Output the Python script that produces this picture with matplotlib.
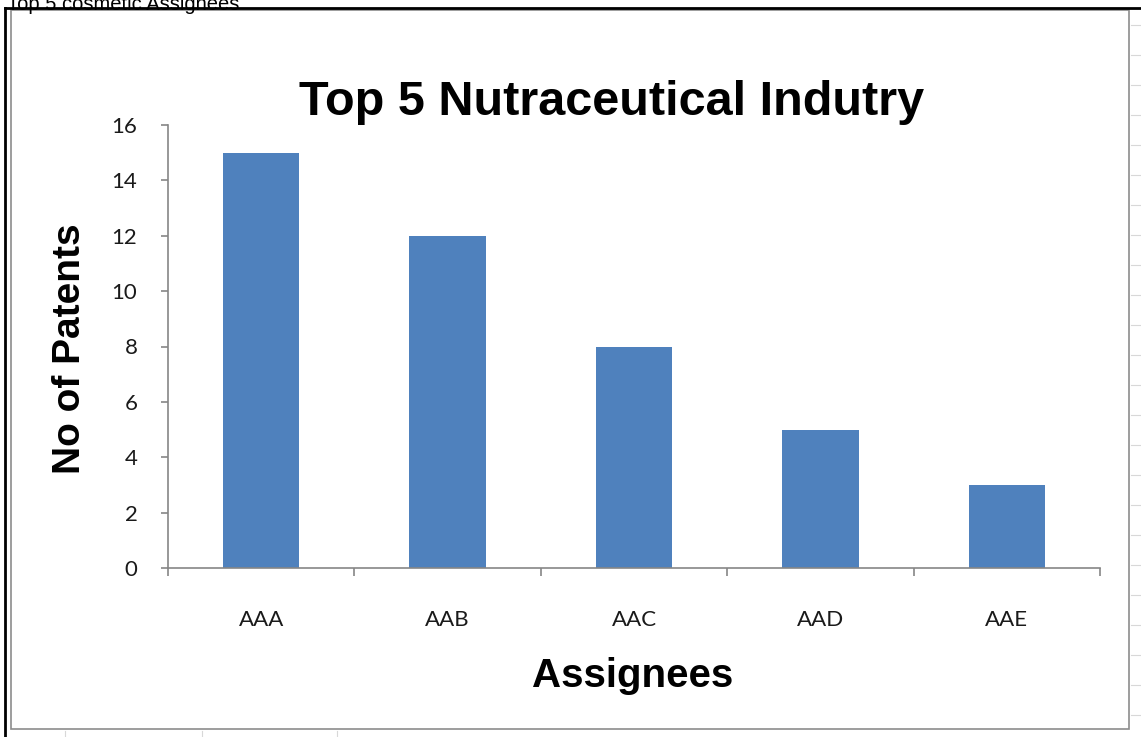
import matplotlib.pyplot as plt
import numpy as np
from matplotlib.patches import Rectangle
from matplotlib.lines import Line2D

# data
assignees = ["AAA", "AAB", "AAC", "AAD", "AAE"]
patents = [15, 12, 8, 5, 3]
yticks = [0, 2, 4, 6, 8, 10, 12, 14, 16]

W, H = 1141, 737
fig = plt.figure(figsize=(W / 100, H / 100), dpi=100)

def px(x, y):
    # pixel coords (top-left origin) -> figure fraction
    return x / W, 1 - y / H

# sheet gridlines peeking out around the chart
for yy in range(25, 737, 30):
    fig.add_artist(Line2D([1131 / W, 1], [1 - yy / H] * 2, color="#d8d8d8", lw=0.8))
for xx in [65, 202, 337]:
    fig.add_artist(Line2D([xx / W] * 2, [0, 6 / H], color="#d8d8d8", lw=0.8))

# chart area
x0, y0 = px(11, 729)
x1, y1 = px(1129, 10)
fig.add_artist(Rectangle((x0, y0), x1 - x0, y1 - y0, transform=fig.transFigure,
                         facecolor="white", edgecolor="#8c8c8c", lw=1.2, zorder=0))

# black frame lines of the screenshot
fig.add_artist(Line2D([5 / W, 1], [1 - 8 / H] * 2, color="black", lw=2))
fig.add_artist(Line2D([5 / W] * 2, [0, 1 - 8 / H], color="black", lw=2))

fig.text(7 / W, 1 - 10 / H, "Top 5 cosmetic Assignees", family="Liberation Sans",
         fontsize=14.5, va="baseline", ha="left", color="black")

# plot area
left, bottom = 168 / W, 1 - 568 / H
ax = fig.add_axes([left, bottom, (1100 - 168) / W, (568 - 125) / H])
ax.set_facecolor("none")
xpos = np.arange(len(assignees))
ax.bar(xpos, patents, width=0.41, color="#4F81BD", zorder=2)

ax.set_xlim(-0.5, len(assignees) - 0.5)
ax.set_ylim(0, 16)
ax.set_yticks(yticks)
ax.set_xticks(xpos)
ax.set_xticklabels(assignees)
ax.set_xticks(np.arange(-0.5, len(assignees)), minor=True)

for s in ["top", "right"]:
    ax.spines[s].set_visible(False)
for s in ["left", "bottom"]:
    ax.spines[s].set_color("#868686")
    ax.spines[s].set_linewidth(1.2)

ax.tick_params(axis="y", direction="out", length=5, color="#868686", width=1.2,
               labelsize=16, labelcolor="#1a1a1a", pad=17)
ax.tick_params(axis="x", which="major", length=0, labelsize=16, labelcolor="#1a1a1a", pad=30)
ax.tick_params(axis="x", which="minor", direction="out", length=6, color="#868686", width=1.2)
for lab in ax.get_xticklabels() + ax.get_yticklabels():
    lab.set_family("Lato")

fig.text(612 / W, 1 - 115 / H, "Top 5 Nutraceutical Indutry", family="Liberation Sans",
         weight="bold", fontsize=35, ha="center", va="baseline")
fig.text(633 / W, 1 - 687 / H, "Assignees", family="Liberation Sans",
         weight="bold", fontsize=29, ha="center", va="baseline")
fig.text(70 / W, 1 - 349 / H, "No of Patents", family="Liberation Sans",
         weight="bold", fontsize=28, ha="center", va="center", rotation=90,
         rotation_mode="anchor")

fig.savefig("out.png", dpi=100)
